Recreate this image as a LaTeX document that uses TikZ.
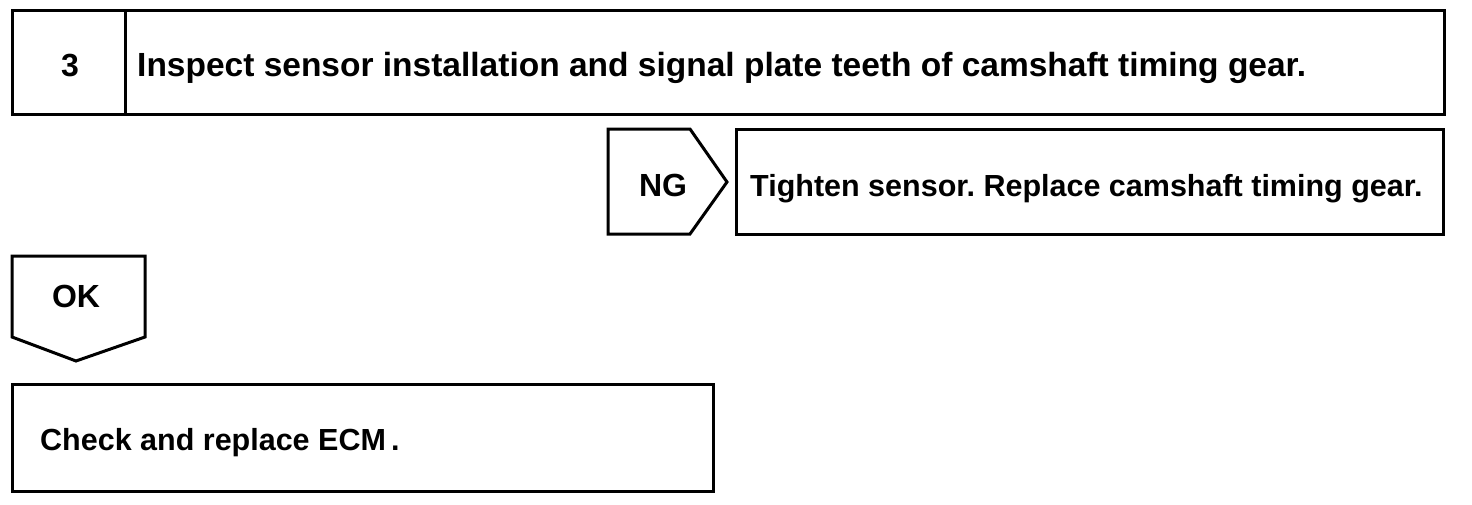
\documentclass[tikz,border=0pt]{standalone}
\usepackage{fontspec}
\setmainfont{Liberation Sans}
\frenchspacing
\begin{document}
\begin{tikzpicture}[x=1pt,y=-1pt,
  frame/.style={draw=black,line width=3pt,line join=miter},
  lbl/.style={font=\bfseries\fontsize{30.5}{36}\selectfont,inner sep=0pt},
  big/.style={font=\bfseries\fontsize{33.5}{40}\selectfont,inner sep=0pt},
  tag/.style={font=\bfseries\fontsize{32}{38}\selectfont,inner sep=0pt}]
\useasboundingbox (0,0) rectangle (1472,504);
% step 3 box
\draw[frame] (12,10) rectangle (1444,114);
\draw[frame] (125,10) -- (125,114);
\node[tag,anchor=base] (num) at (70,76) {3};
\node[big,anchor=base west] (step) at (137,76) {Inspect sensor installation and signal plate teeth of camshaft timing gear.};
% NG arrow
\draw[frame] (608,129) -- (690,129) -- (727,182) -- (690,234) -- (608,234) -- cycle;
\node[tag,anchor=base] (ng) at (663,196) {NG};
\draw[frame] (736,129) rectangle (1443,234);
\node[lbl,anchor=base west] (ngact) at (750,196) {Tighten sensor. Replace camshaft timing gear.};
% OK arrow
\draw[frame] (12,256) -- (145,256) -- (145,337) -- (76,361) -- (12,337) -- cycle;
\node[tag,anchor=base] (ok) at (76,307) {OK};
\draw[frame] (12,384) rectangle (713,491);
\node[lbl,anchor=base west] (okact) at (40,450) {Check and replace ECM\,.};
\end{tikzpicture}
\end{document}
